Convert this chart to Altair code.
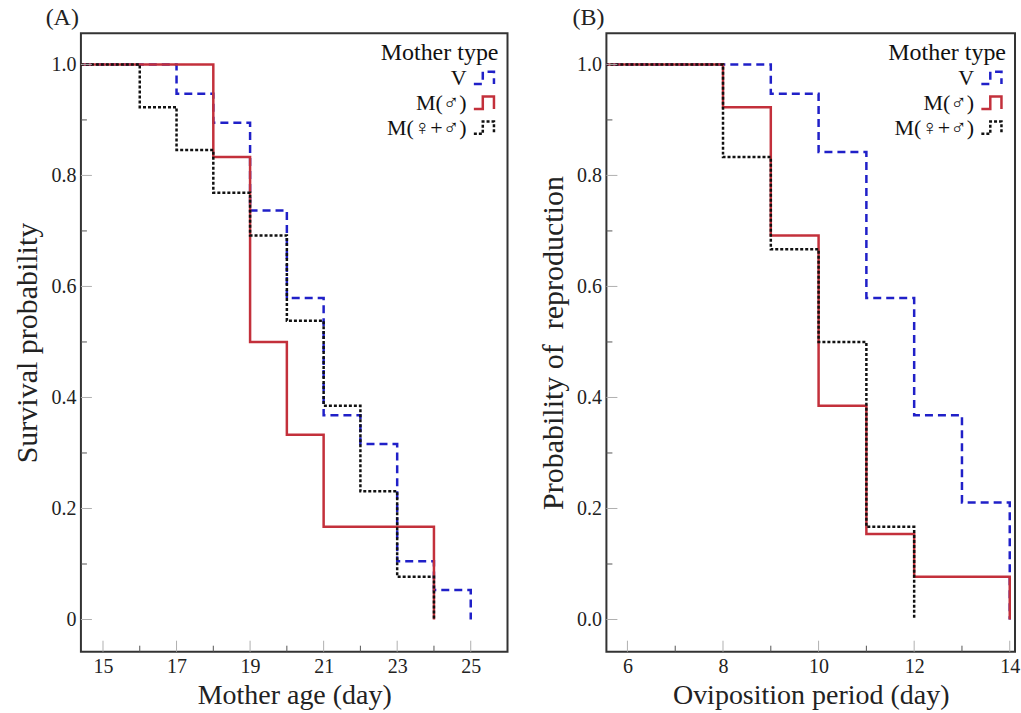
import altair as alt
import pandas as pd

FONT = "Liberation Serif"
LFONT = "Liberation Serif, DejaVu Sans"
SERIES = ["V", "M(♂)", "M(♀+♂)"]
COLORS = ["#2020c8", "#c3303b", "#111111"]
DASHES = [[8, 5], [1, 0], [3, 2]]

# ---- Panel A: survival of mothers (day of age) ----
A_V_day = [0, 17, 18, 19, 20, 21, 22, 23, 24, 25]
A_V_prob = [1.0, 0.947, 0.895, 0.737, 0.579, 0.368, 0.316, 0.105, 0.053, 0.0]
A_M_day = [0, 18, 19, 20, 21, 24]
A_M_prob = [1.0, 0.833, 0.5, 0.333, 0.167, 0.0]
A_F_day = [0, 16, 17, 18, 19, 20, 21, 22, 23, 24]
A_F_prob = [1.0, 0.923, 0.846, 0.769, 0.692, 0.538, 0.385, 0.231, 0.077, 0.0]

# ---- Panel B: probability of reproduction (oviposition period) ----
B_V_day = [0, 9, 10, 11, 12, 13, 14]
B_V_prob = [1.0, 0.947, 0.842, 0.579, 0.368, 0.211, 0.0]
B_M_day = [0, 8, 9, 10, 11, 12, 14]
B_M_prob = [1.0, 0.923, 0.692, 0.385, 0.154, 0.077, 0.0]
B_F_day = [0, 8, 9, 10, 11, 12]
B_F_prob = [1.0, 0.833, 0.667, 0.5, 0.167, 0.0]

# tick values
Y_MAJOR = [0.0, 0.2, 0.4, 0.6, 0.8, 1.0]
Y_MINOR = [0.1, 0.3, 0.5, 0.7, 0.9]
A_X_MAJOR = [15, 17, 19, 21, 23, 25]
A_X_MINOR = [16, 18, 20, 22, 24]
B_X_MAJOR = [6, 8, 10, 12, 14]
B_X_MINOR = [7, 9, 11, 13]

Y_DOMAIN = [-0.058, 1.056]
A_X_DOMAIN = [14.4, 26.0]
B_X_DOMAIN = [5.56, 14.11]

H = 619
A_W = 427
B_W = 409

STEP_PATH = "M-1,0.55H-0.2V-0.55H0.8V0.55"


def make_df(parts):
    rows = []
    for name, xs, ys in parts:
        for x, y in zip(xs, ys):
            rows.append({"t": x, "p": y, "type": name})
    return pd.DataFrame(rows)


def panel(df, xdom, xmaj, xmin, width, xtitle, ytitle, ylabel_expr, tag):
    legend = alt.Legend(
        title="Mother type", orient="top-right", offset=8, padding=0,
        symbolType=STEP_PATH, symbolSize=500, symbolStrokeWidth=2.5,
        symbolFillColor="transparent",
        labelAlign="right", labelOffset={"expr": "-31"}, labelFont=LFONT, labelFontSize=22,
        labelColor="#111", titleFont=FONT, titleFontSize=24, titleFontWeight="normal",
        titleColor="#111", titleAlign="right", titleAnchor="end", rowPadding=1,
        titlePadding=0,
    )
    xscale = alt.Scale(domain=xdom, nice=False, zero=False)
    yscale = alt.Scale(domain=Y_DOMAIN, nice=False, zero=False)
    lines = alt.Chart(df).mark_line(interpolate="step-after", clip=True, strokeWidth=2.5).encode(
        x=alt.X("t:Q", scale=xscale, title=xtitle,
                axis=alt.Axis(values=xmaj, ticks=False, domain=False, grid=False,
                              labelFont=FONT, labelFontSize=20, labelColor="#222",
                              labelPadding=5, titleFont=FONT, titleFontSize=28,
                              titleFontWeight="normal", titleColor="#222", titlePadding=5)),
        y=alt.Y("p:Q", scale=yscale, title=ytitle,
                axis=alt.Axis(values=Y_MAJOR, ticks=False, domain=False, grid=False,
                              labelExpr=ylabel_expr,
                              labelFont=FONT, labelFontSize=20, labelColor="#222",
                              labelPadding=5, titleFont=FONT, titleFontSize=30,
                              titleFontWeight="normal", titleColor="#222", titlePadding=8)),
        color=alt.Color("type:N", scale=alt.Scale(domain=SERIES, range=COLORS), legend=legend),
        strokeDash=alt.StrokeDash("type:N", scale=alt.Scale(domain=SERIES, range=DASHES), legend=legend),
    )
    ymaj = alt.Chart(pd.DataFrame({"p": Y_MAJOR})).mark_rule(color="#b0b0b0", strokeWidth=1).encode(
        y=alt.Y("p:Q", scale=yscale), x=alt.value(0), x2=alt.value(11))
    ymin = alt.Chart(pd.DataFrame({"p": Y_MINOR})).mark_rule(color="#555", strokeWidth=1).encode(
        y=alt.Y("p:Q", scale=yscale), x=alt.value(0), x2=alt.value(6))
    xmaj_r = alt.Chart(pd.DataFrame({"t": xmaj})).mark_rule(color="#b0b0b0", strokeWidth=1).encode(
        x=alt.X("t:Q", scale=xscale), y=alt.value(H), y2=alt.value(H - 11))
    xmin_r = alt.Chart(pd.DataFrame({"t": xmin})).mark_rule(color="#555", strokeWidth=1).encode(
        x=alt.X("t:Q", scale=xscale), y=alt.value(H), y2=alt.value(H - 6))
    return alt.layer(lines, ymaj, ymin, xmaj_r, xmin_r).properties(
        width=width, height=H,
        view=alt.ViewBackground(stroke="#333", strokeWidth=2),
        title=alt.TitleParams(tag, anchor="start", align="right", frame="group", dx=-2,
                              offset=3, font=FONT, fontSize=24, fontWeight="normal", color="#222"),
    )


dfA = make_df([("V", A_V_day, A_V_prob), ("M(♂)", A_M_day, A_M_prob), ("M(♀+♂)", A_F_day, A_F_prob)])
dfB = make_df([("V", B_V_day, B_V_prob), ("M(♂)", B_M_day, B_M_prob), ("M(♀+♂)", B_F_day, B_F_prob)])

pA = panel(dfA, A_X_DOMAIN, A_X_MAJOR, A_X_MINOR, A_W, "Mother age (day)", "Survival probability",
           "datum.value == 0 ? '0' : format(datum.value, '.1f')", "(A)")
pB = panel(dfB, B_X_DOMAIN, B_X_MAJOR, B_X_MINOR, B_W, "Oviposition period (day)",
           "Probability of\u00a0 reproduction", "format(datum.value, '.1f')", "(B)")

chart = alt.hconcat(pA, pB, spacing=29).resolve_scale(
    color="independent", strokeDash="independent", x="independent", y="independent"
).resolve_legend(color="independent", strokeDash="independent").properties(
    padding={"left": 12, "top": 5, "right": 0, "bottom": 0}
).configure_view(stroke="#333", strokeWidth=2).configure(background="white")

chart.save("out.html", embed_options={"renderer": "svg", "actions": False})
